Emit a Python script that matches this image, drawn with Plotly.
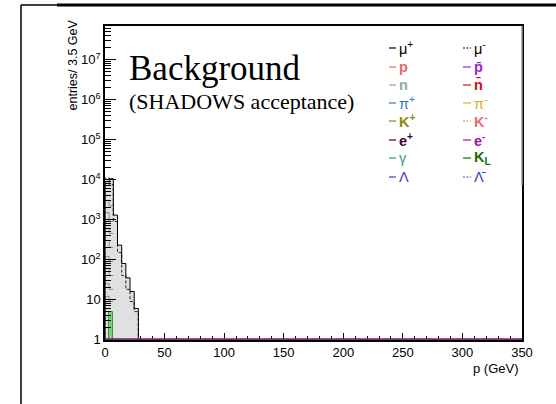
import plotly.graph_objects as go

# ---------------- data ----------------
bin_width = 3.5
n_bins = 100
bin_edges = [i * bin_width for i in range(n_bins + 1)]

# solid black (gray filled) histogram, first non-empty bins
mu_plus = [9000, 10500, 1300, 230, 80, 35, 16, 6]
# dashed black histogram
mu_minus = [11000, 7500, 900, 150, 40, 18, 9, 5]
# green filled histogram (K_L)
k_long = [0, 5]
# other species, gray outlines in the first two bins
others = [[3000, 2200], [1500, 900], [600, 450], [300, 200], [120, 90],
          [60, 40], [25, 18], [12, 9]]
floor_value = 1

x_ticks = [0, 50, 100, 150, 200, 250, 300, 350]
y_ticks = [1, 10, 100, 1e3, 1e4, 1e5, 1e6, 1e7]
y_tick_text = ["1", "10", "10<sup>2</sup>", "10<sup>3</sup>", "10<sup>4</sup>",
               "10<sup>5</sup>", "10<sup>6</sup>", "10<sup>7</sup>"]

legend_left = [("μ<sup>+</sup>", "#000000", "solid"),
               ("<b>p</b>", "#e06b6b", "solid"),
               ("<b>n</b>", "#8fae9c", "solid"),
               ("π<sup>+</sup>", "#2f78c8", "solid"),
               ("<b>K<sup>+</sup></b>", "#8a8a10", "solid"),
               ("<b>e<sup>+</sup></b>", "#3a0a28", "solid"),
               ("γ", "#2f9a8a", "solid"),
               ("Λ", "#3c3cc0", "solid")]
legend_right = [("μ<sup>-</sup>", "#000000", "dash"),
                ("<b>p̄</b>", "#a020d0", "solid"),
                ("<b>n̄</b>", "#d01010", "solid"),
                ("π<sup>-</sup>", "#e0a830", "solid"),
                ("<b>K<sup>-</sup></b>", "#e07070", "dash"),
                ("<b>e<sup>-</sup></b>", "#a010b0", "solid"),
                ("<b>K<sub>L</sub></b>", "#107010", "solid"),
                ("Λ̄", "#3c3cc0", "dash")]


def step_xy(values):
    xs = [bin_edges[0]]
    ys = [floor_value]
    for i, v in enumerate(values):
        xs.append(bin_edges[i])
        ys.append(v if v > 0 else floor_value)
    xs.append(bin_edges[len(values)])
    ys.append(floor_value)
    return xs, ys


fig = go.Figure()

centers = [bin_edges[i] + bin_width / 2 for i in range(len(mu_plus))]
fig.add_trace(go.Bar(x=centers, y=mu_plus, width=bin_width,
                     marker=dict(color="#e0e0e0", line=dict(width=0)),
                     hoverinfo="skip"))
kc = [bin_edges[i] + bin_width / 2 for i in range(len(k_long))]
fig.add_trace(go.Bar(x=kc, y=[v if v > 0 else None for v in k_long], width=bin_width,
                     marker=dict(color="#7ccf7c", line=dict(color="#3a9a3a", width=1)),
                     hoverinfo="skip"))

for o in others:
    xs, ys = step_xy(o)
    fig.add_trace(go.Scatter(x=xs[1:-1] + [bin_edges[len(o)]], y=ys[1:-1] + [o[-1]],
                             mode="lines", line=dict(color="#8c8c8c", width=1, shape="hv"),
                             hoverinfo="skip"))

xs, ys = step_xy(mu_minus)
fig.add_trace(go.Scatter(x=xs, y=ys, mode="lines",
                         line=dict(color="#222222", width=1, dash="3px,2px", shape="hv"),
                         hoverinfo="skip"))
xs, ys = step_xy(mu_plus)
fig.add_trace(go.Scatter(x=xs, y=ys, mode="lines",
                         line=dict(color="#000000", width=1, shape="hv"),
                         hoverinfo="skip"))

fig.add_trace(go.Scatter(x=[bin_edges[0], bin_edges[-1]], y=[floor_value, floor_value],
                         mode="lines", line=dict(color="#8a2060", width=2.5),
                         hoverinfo="skip"))
fig.add_trace(go.Scatter(x=[bin_edges[0], bin_edges[-1]], y=[floor_value, floor_value],
                         mode="lines", line=dict(color="#3c3cc0", width=1.5, dash="3px,6px"),
                         hoverinfo="skip"))

# ---------------- layout ----------------
L, R, T, B = 105, 34, 26, 64
W, H = 556, 404
pw, ph = W - L - R, H - T - B


def px(xp):
    return (xp - L) / pw


def py(yp):
    return (H - B - yp) / ph


annotations = []
shapes = []

annotations.append(dict(x=px(127), y=py(68), xref="paper", yref="paper",
                        text="Background", showarrow=False, xanchor="left", yanchor="middle",
                        font=dict(family="Liberation Serif", size=35, color="#000")))
annotations.append(dict(x=px(127), y=py(102), xref="paper", yref="paper",
                        text="(SHADOWS acceptance)", showarrow=False, xanchor="left",
                        yanchor="middle",
                        font=dict(family="Liberation Serif", size=22, color="#000")))
annotations.append(dict(x=px(72), y=py(18), xref="paper", yref="paper",
                        text="entries/ 3.5 GeV", showarrow=False, textangle=-90,
                        xanchor="center", yanchor="top",
                        font=dict(family="Liberation Sans", size=12.5, color="#000")))
annotations.append(dict(x=px(521), y=py(368), xref="paper", yref="paper",
                        text="p (GeV)", showarrow=False, xanchor="right", yanchor="middle",
                        font=dict(family="Liberation Sans", size=13, color="#000")))

rows = [48, 67, 85, 103, 121, 140, 158, 177]
for (lab, col, dash), yy in zip(legend_left, rows):
    shapes.append(dict(type="line", xref="paper", yref="paper",
                       x0=px(389), x1=px(396), y0=py(yy), y1=py(yy),
                       line=dict(color=col, width=1.2, dash=dash if dash == "solid" else "2px,1.5px")))
    annotations.append(dict(x=px(397), y=py(yy), xref="paper", yref="paper", text=lab,
                            showarrow=False, xanchor="left", yanchor="middle",
                            font=dict(family="Liberation Sans", size=14.5, color=col)))
for (lab, col, dash), yy in zip(legend_right, rows):
    shapes.append(dict(type="line", xref="paper", yref="paper",
                       x0=px(463), x1=px(471), y0=py(yy), y1=py(yy),
                       line=dict(color=col, width=1.2, dash=dash if dash == "solid" else "2px,1.5px")))
    annotations.append(dict(x=px(472), y=py(yy), xref="paper", yref="paper", text=lab,
                            showarrow=False, xanchor="left", yanchor="middle",
                            font=dict(family="Liberation Sans", size=14.5, color=col)))

# outer window frame
shapes.append(dict(type="line", xref="paper", yref="paper", x0=px(21), x1=px(21),
                   y0=py(5), y1=py(404), line=dict(color="#000", width=1.5)))
shapes.append(dict(type="line", xref="paper", yref="paper", x0=px(21), x1=px(57),
                   y0=py(5), y1=py(5), line=dict(color="#000", width=1.5)))
shapes.append(dict(type="line", xref="paper", yref="paper", x0=px(57), x1=px(556),
                   y0=py(5), y1=py(5), line=dict(color="#000", width=3)))
shapes.append(dict(type="line", xref="paper", yref="paper", x0=1, x1=1,
                   y0=py(185), y1=1, line=dict(color="#9a9a9a", width=1.5)))

fig.update_layout(
    width=W, height=H,
    margin=dict(l=L, r=R, t=T, b=B),
    paper_bgcolor="white", plot_bgcolor="white",
    showlegend=False, barmode="overlay", bargap=0,
    annotations=annotations, shapes=shapes,
    font=dict(family="Liberation Sans", size=13, color="#000"),
)
fig.update_xaxes(range=[0, 350], tickvals=x_ticks, ticks="inside", ticklen=7,
                 tickwidth=1, tickcolor="#000", showgrid=False, zeroline=False,
                 showline=True, linecolor="#000", linewidth=1.5, mirror=True,
                 tickfont=dict(family="Liberation Sans", size=13),
                 minor=dict(ticks="inside", ticklen=4, tickcolor="#000", dtick=10, tick0=0,
                            showgrid=False),
                 layer="below traces")
minor_y = [m * 10 ** d for d in range(0, 8) for m in range(2, 10)]
fig.update_yaxes(type="log", range=[-0.01, 7.84], tickvals=y_ticks, ticktext=y_tick_text,
                 ticks="inside", ticklen=11, tickwidth=1, tickcolor="#000",
                 showgrid=False, zeroline=False, showline=True, linecolor="#000",
                 linewidth=1.5, mirror=True,
                 tickfont=dict(family="Liberation Sans", size=13),
                 minor=dict(ticks="inside", ticklen=6, tickcolor="#000", tickvals=minor_y,
                            showgrid=False))

fig.write_html("out.html", config={"displayModeBar": False},
               post_script="document.body.style.margin='0';document.body.style.overflow='hidden';")
